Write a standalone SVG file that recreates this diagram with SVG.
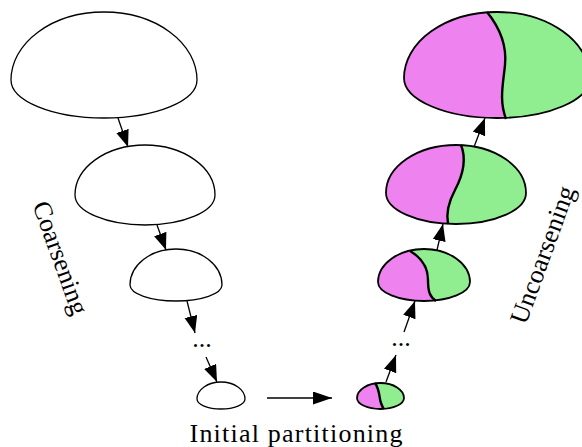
<svg xmlns="http://www.w3.org/2000/svg" width="582" height="447" viewBox="0 0 582 447">
<style>
.plain{fill:#fff;stroke:#000;stroke-width:1.3}
.outline{fill:none;stroke:#000;stroke-width:1.8}
.div{fill:none;stroke:#000;stroke-width:2.4}
.pink{fill:#EE82EE}
.green{fill:#90EE90}
.edge{stroke:#000;stroke-width:1.3;fill:none}
.lbl{font-family:"Liberation Serif","Times New Roman",serif;font-size:26px;fill:#000}
</style>
<defs>
<marker id="ah" markerUnits="userSpaceOnUse" markerWidth="18" markerHeight="14" refX="17" refY="6.5" orient="auto">
<path d="M0,0 L17,6.5 L0,13 Z" fill="#000"/>
</marker>
<marker id="ahBig" markerUnits="userSpaceOnUse" markerWidth="20" markerHeight="14" refX="19" refY="6.5" orient="auto">
<path d="M0,0 L19,6.5 L0,13 Z" fill="#000"/>
</marker>
<clipPath id="cR1"><path d="M404,78 A93,66 0 0 1 590,78 A93,40 0 0 1 404,78 Z"/></clipPath>
<clipPath id="cR2"><path d="M386,193 A70,48 0 0 1 526,193 A70,31 0 0 1 386,193 Z"/></clipPath>
<clipPath id="cR3"><path d="M378,282 A46,33 0 0 1 470,282 A46,19 0 0 1 378,282 Z"/></clipPath>
<clipPath id="cR4"><path d="M357,398 A23.5,15 0 0 1 404,398 A23.5,11 0 0 1 357,398 Z"/></clipPath>
</defs>

<g id="L1"><path class="plain" d="M11,80 A93,68 0 0 1 197,80 A93,38 0 0 1 11,80 Z"/></g>
<g id="L2"><path class="plain" d="M75,195 A70,50 0 0 1 215,195 A70,30 0 0 1 75,195 Z"/></g>
<g id="L3"><path class="plain" d="M130,285 A46,36 0 0 1 222,285 A46,16 0 0 1 130,285 Z"/></g>
<g id="L4"><path class="plain" d="M197,399 A24,17 0 0 1 245,399 A24,10 0 0 1 197,399 Z"/></g>
<g id="Ldots"><text class="lbl" x="202" y="347" text-anchor="middle" font-size="24">...</text></g>

<g id="R1">
<g clip-path="url(#cR1)">
<rect class="green" x="400" y="0" width="200" height="130"/>
<path class="pink" d="M395,5 L487,5 L487,12 C500,28 507,45 505,65 C503,85 499,100 506,119 L506,125 L395,125 Z"/>
</g>
<path class="outline" d="M404,78 A93,66 0 0 1 590,78 A93,40 0 0 1 404,78 Z"/>
<path class="div" d="M487,12 C500,28 507,45 505,65 C503,85 499,100 506,119"/>
</g>
<g id="R2">
<g clip-path="url(#cR2)">
<rect class="green" x="380" y="140" width="150" height="90"/>
<path class="pink" d="M380,140 L461,140 L461,145 C467,160 463,175 455,190 C448,203 446,213 448,224 L448,230 L380,230 Z"/>
</g>
<path class="outline" d="M386,193 A70,48 0 0 1 526,193 A70,31 0 0 1 386,193 Z"/>
<path class="div" d="M461,145 C467,160 463,175 455,190 C448,203 446,213 448,224"/>
</g>
<g id="R3">
<g clip-path="url(#cR3)">
<rect class="green" x="375" y="245" width="100" height="60"/>
<path class="pink" d="M375,245 L410,245 L410,251 C422,258 428,268 428,280 C428,292 430,297 436,301 L436,305 L375,305 Z"/>
</g>
<path class="outline" d="M378,282 A46,33 0 0 1 470,282 A46,19 0 0 1 378,282 Z"/>
<path class="div" d="M410,251 C422,258 428,268 428,280 C428,292 430,297 436,301"/>
</g>
<g id="R4">
<g clip-path="url(#cR4)">
<rect class="green" x="355" y="380" width="52" height="32"/>
<path class="pink" d="M355,380 L375,380 L375,383 C380,390 379,398 381,403 C382,406 383,408 384,409 L384,412 L355,412 Z"/>
</g>
<path class="outline" d="M357,398 A23.5,15 0 0 1 404,398 A23.5,11 0 0 1 357,398 Z"/>
<path class="div" d="M375,383 C380,390 379,398 381,403 C382,406 383,408 384,409"/>
</g>
<g id="Rdots"><text class="lbl" x="401" y="346" text-anchor="middle" font-size="24">...</text></g>

<g id="connectors">
<line class="edge" x1="118" y1="118" x2="128" y2="147" marker-end="url(#ah)"/>
<line class="edge" x1="157" y1="225" x2="166" y2="250" marker-end="url(#ah)"/>
<line class="edge" x1="187" y1="301" x2="195" y2="333" marker-end="url(#ah)"/>
<line class="edge" x1="206" y1="357" x2="217" y2="382" marker-end="url(#ah)"/>
<line class="edge" x1="267" y1="398" x2="332" y2="398" stroke-width="2" marker-end="url(#ahBig)"/>
<line class="edge" x1="386" y1="382" x2="396" y2="355" marker-end="url(#ah)"/>
<line class="edge" x1="404" y1="332" x2="415" y2="301" marker-end="url(#ah)"/>
<line class="edge" x1="437" y1="250" x2="443" y2="224" marker-end="url(#ah)"/>
<line class="edge" x1="474" y1="147" x2="485" y2="118" marker-end="url(#ah)"/>
</g>

<g id="labels">
<text class="lbl" x="296" y="442" text-anchor="middle" textLength="213" lengthAdjust="spacing">Initial partitioning</text>
<text class="lbl" transform="translate(60,258) rotate(70)" x="0" y="8" text-anchor="middle">Coarsening</text>
<text class="lbl" transform="translate(543,255) rotate(-70)" x="0" y="8" text-anchor="middle" font-size="25">Uncoarsening</text>
</g>
</svg>
